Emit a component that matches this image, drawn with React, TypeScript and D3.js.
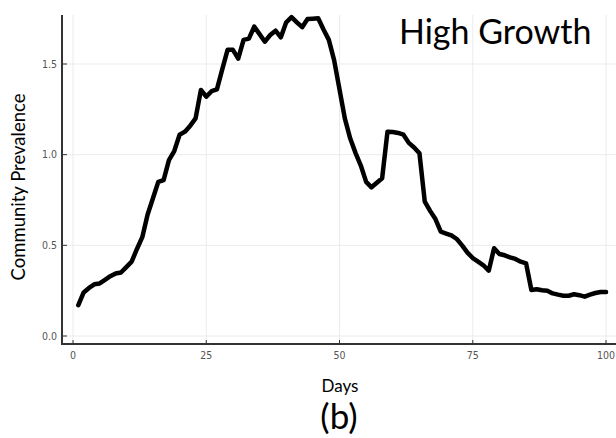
import React from "react";
import * as d3 from "d3";

const days: number[] = Array.from({ length: 100 }, (_, i) => i + 1);
const prevalence: number[] = [
  0.17, 0.24, 0.265, 0.285, 0.29, 0.31, 0.33, 0.345, 0.35, 0.38,
  0.41, 0.48, 0.545, 0.67, 0.76, 0.85, 0.86, 0.97, 1.02, 1.11,
  1.127, 1.16, 1.2, 1.357, 1.32, 1.35, 1.36, 1.47, 1.578, 1.578,
  1.53, 1.633, 1.64, 1.706, 1.665, 1.623, 1.66, 1.684, 1.647, 1.73,
  1.758, 1.73, 1.703, 1.748, 1.75, 1.752, 1.69, 1.633, 1.52, 1.36,
  1.2, 1.09, 1.01, 0.94, 0.85, 0.82, 0.845, 0.87, 1.127, 1.125,
  1.12, 1.11, 1.065, 1.04, 1.008, 0.741, 0.69, 0.645, 0.575, 0.565,
  0.555, 0.535, 0.5, 0.46, 0.43, 0.41, 0.39, 0.36, 0.484, 0.452,
  0.445, 0.434, 0.425, 0.41, 0.401, 0.254, 0.258, 0.252, 0.25, 0.235,
  0.228, 0.222, 0.222, 0.23, 0.225, 0.217, 0.228, 0.237, 0.243, 0.242,
];
const xTicks: number[] = [0, 25, 50, 75, 100];
const yTicks: number[] = [0.0, 0.5, 1.0, 1.5];
const yTickLabels: string[] = ["0.0", "0.5", "1.0", "1.5"];

const W = 616;
const H = 438;

export default function App() {
  const x = d3.scaleLinear().domain([0, 100]).range([73, 606]);
  const y = d3.scaleLinear().domain([0, 1.5]).range([336, 64]);
  const left = 62, right = 616, top = 15, bottom = 344;
  const line = d3
    .line<number>()
    .x((_, i) => x(days[i]))
    .y((d) => y(d));
  const tickFont = "'DejaVu Sans Condensed', 'DejaVu Sans', sans-serif";
  const labelFont = "Lato, 'Open Sans', sans-serif";
  return (
    <svg
      width={W}
      height={H}
      style={{ position: "absolute", left: 0, top: 0, background: "#fff" }}
    >
      {xTicks.map((t) => (
        <line key={"gx" + t} x1={x(t)} x2={x(t)} y1={top} y2={bottom} stroke="#ebebeb" strokeWidth={1} />
      ))}
      {yTicks.map((t) => (
        <line key={"gy" + t} x1={left} x2={right} y1={y(t)} y2={y(t)} stroke="#ebebeb" strokeWidth={1} />
      ))}
      <line x1={left} x2={left} y1={top} y2={bottom + 1} stroke="#333" strokeWidth={2} />
      <line x1={left} x2={right} y1={bottom} y2={bottom} stroke="#333" strokeWidth={2} />
      {xTicks.map((t) => (
        <g key={"tx" + t}>
          <line x1={x(t)} x2={x(t)} y1={bottom} y2={bottom - 4} stroke="#333" strokeWidth={1} />
          <text x={x(t)} y={bottom + 15} textAnchor="middle" fontFamily={tickFont} fontSize={10.5} fill="#555">
            {t}
          </text>
        </g>
      ))}
      {yTicks.map((t, i) => (
        <g key={"ty" + t}>
          <line x1={left} x2={left + 5} y1={y(t)} y2={y(t)} stroke="#333" strokeWidth={1} />
          <text x={57} y={y(t) + 3.5} textAnchor="end" fontFamily={tickFont} fontSize={10.5} fill="#555">
            {yTickLabels[i]}
          </text>
        </g>
      ))}
      <path
        d={line(prevalence) || ""}
        fill="none"
        stroke="#000"
        strokeWidth={4.5}
        strokeLinejoin="round"
        strokeLinecap="round"
      />
      <text x={399} y={44} fontFamily={labelFont} fontSize={34} fill="#000">
        High Growth
      </text>
      <text
        transform="translate(25,187) rotate(-90)"
        textAnchor="middle"
        fontFamily={labelFont}
        fontSize={18.5}
        fill="#000"
      >
        Community Prevalence
      </text>
      <text x={340} y={392} textAnchor="middle" fontFamily={labelFont} fontSize={17} fill="#000">
        Days
      </text>
      <text x={339} y={429} textAnchor="middle" fontFamily={labelFont} fontSize={35} fill="#000">
        (b)
      </text>
    </svg>
  );
}
